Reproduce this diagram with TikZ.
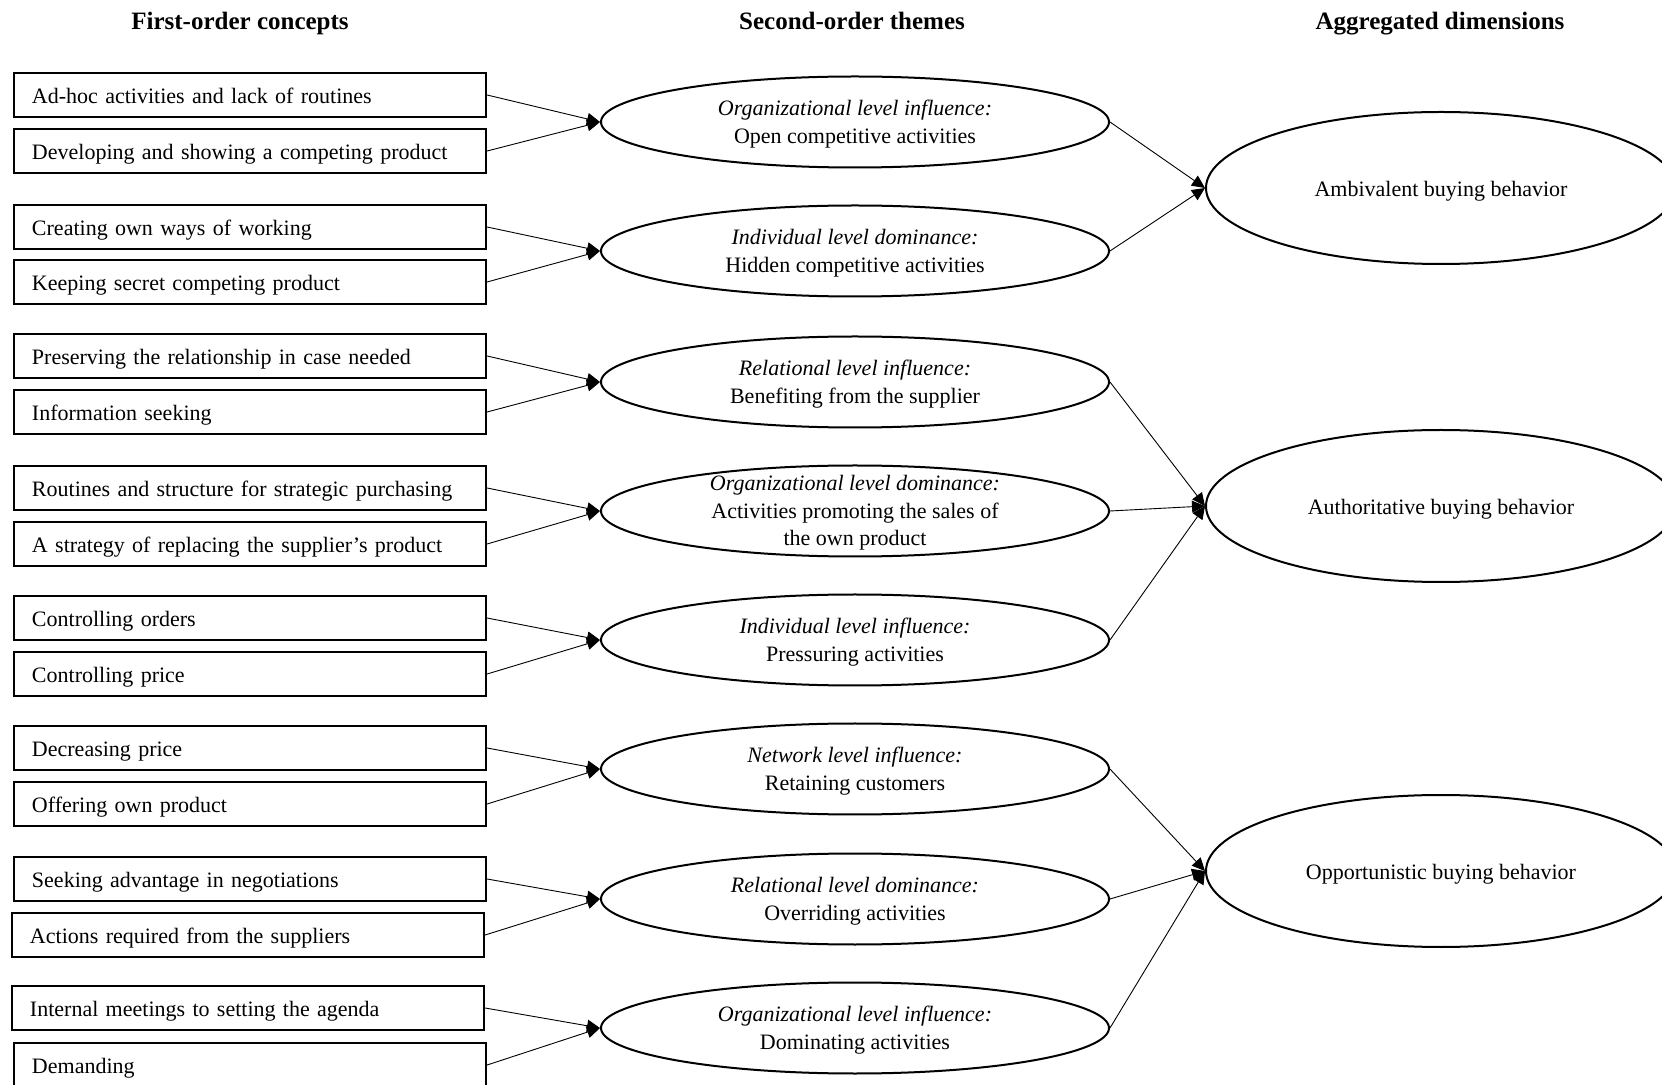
\documentclass[tikz,border=0pt]{standalone}
\usepackage{fontspec}
\setmainfont{Liberation Serif}
\usetikzlibrary{arrows.meta,shapes.geometric}
\begin{document}
\begin{tikzpicture}[x=0.5pt,y=-0.5pt,
  concept/.style={draw, line width=1.1pt, inner xsep=9pt, inner ysep=0pt, text width=218pt, text height=9.4pt, text depth=0.8pt, minimum height=22pt, align=left, font=\fontsize{11}{13}\selectfont},
  theme/.style={draw, ellipse, line width=1pt, minimum width=254pt, minimum height=45.5pt, inner sep=0pt},
  themetxt/.style={align=center, inner sep=0pt, yshift=-1pt, font=\fontsize{11}{13.8}\selectfont},
  dim/.style={draw, ellipse, line width=1pt, minimum width=235pt, minimum height=76pt, inner sep=0pt, text height=9.4pt, text depth=0.8pt, font=\fontsize{11}{13}\selectfont},
  head/.style={anchor=base, font=\bfseries\fontsize{12.5}{14}\selectfont},
  conn/.style={line width=0.45pt, -{Triangle[length=6.5pt,width=6pt]}}
]
\useasboundingbox (0,0) rectangle (1662,1085);
\clip (0,0) rectangle (1662,1085);

% headings
\node[head] (h1) at (240,30) {First-order concepts};
\node[head] (h2) at (852,30) {Second-order themes};
\node[head] (h3) at (1440,30) {Aggregated dimensions};

% first-order concepts
\node[concept] (c1)  at (250,95)  {Ad-hoc activities and lack of routines};
\node[concept] (c2)  at (250,151) {Developing and showing a competing product};
\node[concept] (c3)  at (250,227) {Creating own ways of working};
\node[concept] (c4)  at (250,282) {Keeping secret competing product};
\node[concept] (c5)  at (250,356) {Preserving the relationship in case needed};
\node[concept] (c6)  at (250,412) {Information seeking};
\node[concept] (c7)  at (250,488) {Routines and structure for strategic purchasing};
\node[concept] (c8)  at (250,544) {A strategy of replacing the supplier’s product};
\node[concept] (c9)  at (250,618) {Controlling orders};
\node[concept] (c10) at (250,674) {Controlling price};
\node[concept] (c11) at (250,748) {Decreasing price};
\node[concept] (c12) at (250,804) {Offering own product};
\node[concept] (c13) at (250,879) {Seeking advantage in negotiations};
\node[concept] (c14) at (248,935) {Actions required from the suppliers};
\node[concept] (c15) at (248,1008) {Internal meetings to setting the agenda};
\node[concept] (c16) at (250,1065) {Demanding};

% second-order themes
\node[theme] (t1) at (855,122) {};
\node[themetxt] at (t1) {\textit{Organizational level influence:}\\Open competitive activities};
\node[theme] (t2) at (855,251) {};
\node[themetxt] at (t2) {\textit{Individual level dominance:}\\Hidden competitive activities};
\node[theme] (t3) at (855,382) {};
\node[themetxt] at (t3) {\textit{Relational level influence:}\\Benefiting from the supplier};
\node[theme] (t4) at (855,511) {};
\node[themetxt] at (t4) {\textit{Organizational level dominance:}\\Activities promoting the sales of\\the own product};
\node[theme] (t5) at (855,640) {};
\node[themetxt] at (t5) {\textit{Individual level influence:}\\Pressuring activities};
\node[theme] (t6) at (855,769) {};
\node[themetxt] at (t6) {\textit{Network level influence:}\\Retaining customers};
\node[theme] (t7) at (855,899) {};
\node[themetxt] at (t7) {\textit{Relational level dominance:}\\Overriding activities};
\node[theme] (t8) at (855,1028) {};
\node[themetxt] at (t8) {\textit{Organizational level influence:}\\Dominating activities};

% aggregated dimensions
\node[dim] (d1) at (1441,188) {Ambivalent buying behavior};
\node[dim] (d2) at (1441,506) {Authoritative buying behavior};
\node[dim] (d3) at (1441,871) {Opportunistic buying behavior};

% connectors
\foreach \a/\b in {c1/t1,c2/t1,c3/t2,c4/t2,c5/t3,c6/t3,c7/t4,c8/t4,c9/t5,c10/t5,c11/t6,c12/t6,c13/t7,c14/t7,c15/t8,c16/t8}
  \draw[conn] (\a.east) -- (\b.west);
\foreach \a/\b in {t1/d1,t2/d1,t3/d2,t4/d2,t5/d2,t6/d3,t7/d3,t8/d3}
  \draw[conn] (\a.east) -- (\b.west);
\end{tikzpicture}
\end{document}
